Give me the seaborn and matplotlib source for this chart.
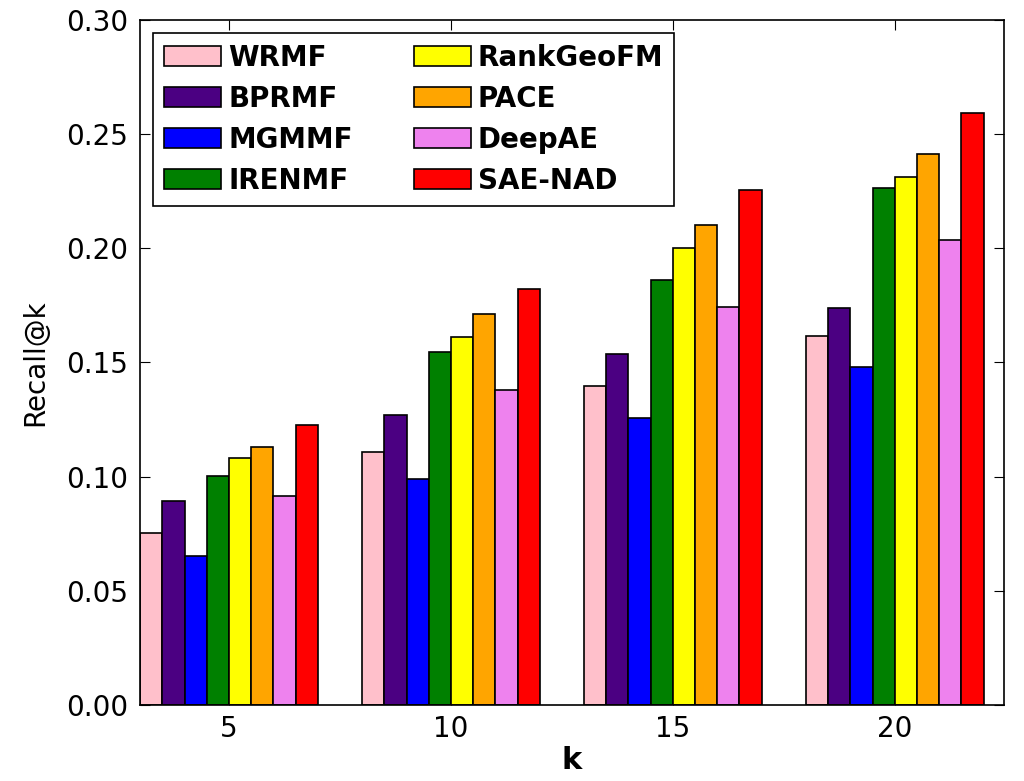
import pandas as pd
import matplotlib
matplotlib.use("Agg")
import matplotlib.pyplot as plt
import seaborn as sns

# Data
ks = ["5", "10", "15", "20"]
methods = ["WRMF", "BPRMF", "MGMMF", "IRENMF", "RankGeoFM", "PACE", "DeepAE", "SAE-NAD"]
colors = ["pink", "indigo", "blue", "green", "yellow", "orange", "violet", "red"]

wrmf = [0.0755, 0.111, 0.1398, 0.1617]
bprmf = [0.0895, 0.127, 0.1535, 0.174]
mgmmf = [0.0655, 0.099, 0.1257, 0.148]
irenmf = [0.1005, 0.1545, 0.186, 0.2263]
rankgeofm = [0.108, 0.161, 0.200, 0.2312]
pace = [0.113, 0.171, 0.210, 0.2413]
deepae = [0.0915, 0.138, 0.1743, 0.2034]
saenad = [0.1225, 0.182, 0.2253, 0.2593]

series = [wrmf, bprmf, mgmmf, irenmf, rankgeofm, pace, deepae, saenad]
rows = []
for m, vals in zip(methods, series):
    for k, v in zip(ks, vals):
        rows.append({"k": k, "method": m, "recall": v})
df = pd.DataFrame(rows)

sns.set_style("ticks")
plt.rcParams["font.family"] = ["DejaVu Sans"]
plt.rcParams.update({"text.color": "black", "axes.labelcolor": "black",
                     "xtick.color": "black", "ytick.color": "black",
                     "axes.edgecolor": "black"})

fig, ax = plt.subplots(figsize=(10.24, 7.81), dpi=100)
sns.barplot(data=df, x="k", y="recall", hue="method", hue_order=methods,
            order=ks, palette=colors, edgecolor="black", linewidth=1.2,
            saturation=1, width=0.8, gap=0, ax=ax)

ax.set_xlim(-0.4, 3.49)
ax.set_ylim(0, 0.30)
ax.set_yticks([0, 0.05, 0.10, 0.15, 0.20, 0.25, 0.30])
ax.set_yticklabels(["0.00", "0.05", "0.10", "0.15", "0.20", "0.25", "0.30"])
ax.tick_params(direction="in", top=True, right=True, labelsize=20, length=7)
ax.tick_params(axis="y", pad=9)
ax.tick_params(axis="x", pad=7)
ax.set_ylabel("Recall@k", fontsize=20, labelpad=12)
ax.set_xlabel("k", fontsize=22, fontweight="bold", labelpad=2)
for s in ax.spines.values():
    s.set_linewidth(1.2)
    s.set_visible(True)

leg = ax.legend(ncol=2, loc="upper left", bbox_to_anchor=(0.015, 0.981),
                borderaxespad=0,
                prop={"weight": "bold", "size": 20}, fancybox=False,
                edgecolor="black", framealpha=1, handlelength=2.05,
                handleheight=0.75, handletextpad=0.25, columnspacing=2.2,
                labelspacing=0.47, borderpad=0.4)
leg.get_frame().set_linewidth(1.2)

fig.subplots_adjust(left=0.137, right=0.98, top=0.975, bottom=0.097)
fig.savefig("out.png", dpi=100)
